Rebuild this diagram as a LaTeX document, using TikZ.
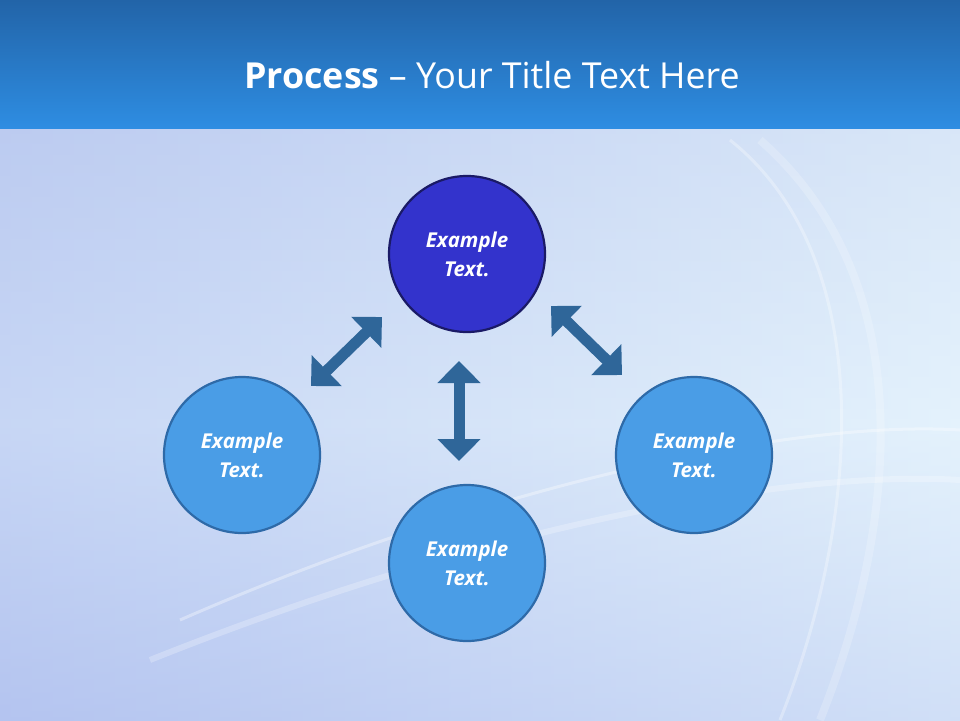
\documentclass[tikz,border=0pt]{standalone}
\usepackage{fontspec}
\setmainfont{Open Sans}
\usetikzlibrary{arrows.meta}
\definecolor{bartop}{HTML}{2264A8}
\definecolor{barbot}{HTML}{2E8DE2}
\definecolor{bgA}{HTML}{C8D6F2}
\definecolor{bgB}{HTML}{B4C4F0}
\definecolor{bgC}{HTML}{E4F2FC}
\definecolor{darkfill}{HTML}{3333CC}
\definecolor{darkline}{HTML}{1A1A66}
\definecolor{lightfill}{HTML}{4A9DE6}
\definecolor{lightline}{HTML}{2E6AA8}
\definecolor{arrowc}{HTML}{2F6699}
\tikzset{
  circ/.style={circle,minimum size=156pt,line width=2.2pt,draw=lightline,fill=lightfill,
    text=white,font=\bfseries\itshape\fontsize{20.5}{29}\selectfont,align=center},
  topcirc/.style={circ,fill=darkfill,draw=darkline},
  dblarrow/.style={arrowc,line width=11pt,
    {Triangle[width=42pt,length=22pt]}-{Triangle[width=42pt,length=22pt]}},
  swirl/.style={white,opacity=0.35,line width=3pt}
}
\begin{document}
\begin{tikzpicture}[x=1pt,y=-1pt]
\useasboundingbox (0,0) rectangle (960,720);
\shade[top color=bgA,bottom color=bgB,middle color=bgC,shading angle=0] (0,128) rectangle (960,720);
\shade[left color=bgB,right color=bgC,opacity=0.6] (0,128) rectangle (960,720);
\draw[swirl] (180,620) .. controls (500,480) and (800,420) .. (960,430);
\draw[swirl,opacity=0.25,line width=6pt] (150,660) .. controls (500,520) and (800,470) .. (960,480);
\draw[swirl,opacity=0.3] (730,140) .. controls (880,260) and (860,520) .. (780,720);
\draw[swirl,opacity=0.2,line width=8pt] (760,140) .. controls (920,280) and (900,520) .. (820,720);
\shade[top color=bartop,bottom color=barbot] (0,0) rectangle (960,128);
\node[text=white,font=\fontsize{35.8}{42}\selectfont] (title) at (492,75) {\textbf{Process} -- Your Title Text Here};
\node[topcirc] (top) at (467,254) {Example\\Text.};
\node[circ] (left) at (242,455) {Example\\Text.};
\node[circ] (right) at (694,455) {Example\\Text.};
\node[circ] (bottom) at (467,563) {Example\\Text.};
\coordinate (l1) at (311,386); \coordinate (l2) at (382,317);
\coordinate (r1) at (551,306); \coordinate (r2) at (622,375);
\coordinate (v1) at (459,361); \coordinate (v2) at (459,461);
\draw[dblarrow] (l1) -- (l2);
\draw[dblarrow] (r1) -- (r2);
\draw[dblarrow] (v1) -- (v2);
\end{tikzpicture}
\end{document}
